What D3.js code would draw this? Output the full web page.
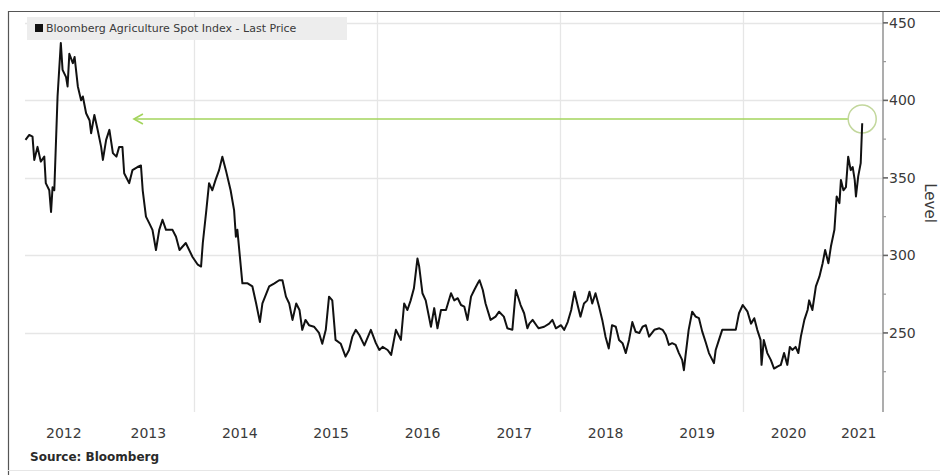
<!DOCTYPE html>
<html><head><meta charset="utf-8">
<script src="https://cdn.jsdelivr.net/npm/d3@7/dist/d3.min.js"></script>
<style>
html,body{margin:0;padding:0;background:#fff;}
svg{display:block;}
</style></head>
<body><svg id="chart" width="940" height="475"></svg>
<script>
const seriesName = "Bloomberg Agriculture Spot Index - Last Price";
const sourceText = "Source: Bloomberg";
const axisTitle = "Level";
const dates = [
"2012-02-28","2012-03-14","2012-03-27","2012-04-03","2012-04-16","2012-04-29","2012-05-13","2012-05-19","2012-06-02","2012-06-09","2012-06-15","2012-06-22","2012-07-05","2012-07-18","2012-07-25","2012-08-08","2012-08-14","2012-08-21","2012-09-04","2012-09-11","2012-09-24","2012-10-07","2012-10-14","2012-10-27","2012-11-10","2012-11-16","2012-11-29","2012-12-12","2012-12-26",
"2013-01-02","2013-01-15","2013-01-28","2013-02-11","2013-02-25","2013-03-08","2013-03-21","2013-03-28","2013-04-17","2013-04-30","2013-05-20","2013-06-03","2013-06-10","2013-06-23","2013-07-06","2013-07-19","2013-08-02","2013-08-15","2013-08-28","2013-09-11","2013-10-07","2013-10-21","2013-11-04","2013-11-29","2013-12-26",
"2014-01-16","2014-01-29","2014-02-05","2014-02-19","2014-03-02","2014-03-15","2014-03-28","2014-04-11","2014-04-24","2014-05-08","2014-05-27","2014-06-10","2014-06-17","2014-06-23","2014-07-13","2014-08-03","2014-08-22","2014-09-06","2014-09-21","2014-10-01","2014-10-28","2014-11-18","2014-12-07","2014-12-20",
"2015-01-03","2015-01-16","2015-01-29","2015-02-13","2015-02-26","2015-03-09","2015-03-22","2015-04-05","2015-04-25","2015-05-15","2015-05-28","2015-06-11","2015-06-24","2015-07-07","2015-07-20","2015-08-10","2015-08-29","2015-09-12","2015-09-25","2015-10-09","2015-10-23","2015-11-12","2015-12-08","2015-12-28",
"2016-01-11","2016-01-24","2016-02-13","2016-02-27","2016-03-17","2016-04-06","2016-04-19","2016-05-02","2016-05-15","2016-05-28","2016-06-11","2016-06-18","2016-07-01","2016-07-14","2016-08-04","2016-08-17","2016-08-30","2016-09-13","2016-10-03","2016-10-23","2016-11-05","2016-11-19","2016-12-02","2016-12-15","2016-12-28",
"2017-01-11","2017-01-24","2017-02-07","2017-02-14","2017-02-27","2017-03-10","2017-03-30","2017-04-19","2017-05-03","2017-05-22","2017-06-05","2017-06-25","2017-07-09","2017-07-28","2017-08-11","2017-08-24","2017-09-01","2017-09-14","2017-10-03","2017-10-08","2017-10-30","2017-11-19","2017-12-02","2017-12-16",
"2018-01-05","2018-01-18","2018-02-01","2018-02-15","2018-02-28","2018-03-11","2018-03-24","2018-04-07","2018-04-20","2018-04-29","2018-05-10","2018-05-23","2018-06-06","2018-06-19","2018-07-02","2018-07-15","2018-07-28","2018-08-12","2018-08-25","2018-09-08","2018-09-21","2018-10-04","2018-10-17","2018-10-30","2018-11-14","2018-11-27","2018-12-10","2018-12-23",
"2019-01-13","2019-02-02","2019-02-15","2019-02-28","2019-03-12","2019-03-25","2019-04-08","2019-04-21","2019-05-04","2019-05-11","2019-05-17","2019-05-30","2019-06-13","2019-06-27","2019-07-10","2019-07-23","2019-08-06","2019-08-19","2019-09-08","2019-09-15","2019-09-28","2019-10-11","2019-11-01","2019-11-20","2019-12-04","2019-12-17",
"2020-01-01","2020-01-20","2020-02-03","2020-02-16","2020-02-28","2020-03-12","2020-03-16","2020-03-25","2020-04-08","2020-04-22","2020-05-05","2020-05-18","2020-06-01","2020-06-14","2020-06-27","2020-07-07","2020-07-17","2020-07-30","2020-08-10","2020-08-20","2020-09-03","2020-09-16","2020-09-22","2020-10-05","2020-10-19","2020-11-02","2020-11-15","2020-11-25","2020-12-08","2020-12-18",
"2021-01-01","2021-01-10","2021-01-21","2021-01-27","2021-02-06","2021-02-16","2021-02-25","2021-03-07","2021-03-15","2021-03-23","2021-03-28","2021-04-06","2021-04-16","2021-04-22"
];
const values = [
374.5,377.7,376.6,361.6,370,360.5,363.7,346.6,342,328,344,342,402.5,437,419.7,415,409,430,424,428,409,400,402.5,391.7,387,378.8,390.6,381,370,
361.6,374.5,381,366,363.7,370,370,353,346.6,355,357,358,342,325,320.8,316.5,303.5,316.5,323,316.5,316.5,312,303.5,308,299,
294,292.8,308,329,346.6,342,348.7,355,363.7,355,342,329,312,316.5,282,282,280,269,257,269,280,282,284,284,
273.4,269,258.4,269,264.8,252,258.4,255,254,250,243,252,273.4,271,245.5,243,234.7,239,247.6,252,248.7,242,252,243.4,
239,241,239,235.8,252,245.5,269,264.8,271,278.8,298,292.8,275.6,271,254,266,253,264.8,264.8,275.6,271,272.4,268,267,258.4,
273.4,277.7,282,284,277.7,269,258.4,260.5,263.7,260.5,253,252,277.7,268,262.7,253,256,258.4,254,253,254,256,258.4,253,
255,252,257,264.8,276.6,269,260.5,269,271,276.6,269,275.6,267,258.4,247.6,240,255,254,245.5,243.4,237,245.5,257,250.8,250,254,255,247.6,
252,253,252,248.7,242.3,243.4,242.3,237,232.6,226,234.7,252,263.7,260.5,259.5,251,244,237,230.5,239,245.5,252,252,252,252,262.7,
268,263.7,256,259.5,252,245.5,229.4,245.5,237,232.6,227,228.3,229.4,237,229.4,241,239,241,237,247.6,258.4,264.8,271,264.8,280,286.3,295,303.5,295,305.7,
316.5,338,333.7,348.7,342,344,363.7,355,357,348.7,338,351,359.5,385.3
];
const yTicks = [250, 300, 350, 400, 450];
const yMinorTicks = [225, 275, 325, 375, 425];
const gridYears = [2014, 2016, 2018, 2020];
const yearLabels = ["2012","2013","2014","2015","2016","2017","2018","2019","2020","2021"];
const xDomain = ["2012-02-26", "2021-07-14"];
const yDomain = [199, 457];
const arrowLevel = 388;
const arrowFrom = "2021-04-22";
const arrowTo = "2013-05-06";

(function () {
const parse = d3.timeParse("%Y-%m-%d");
const data = dates.map((d, i) => ({date: parse(d), value: values[i]}));

const svg = d3.select("#chart");
const pL = 25, pR = 883, pT = 12, pB = 412;
const x = d3.scaleTime().domain(xDomain.map(parse)).range([pL, pR]);
const y = d3.scaleLinear().domain(yDomain).range([pB, pT]);
const font = "'DejaVu Sans', sans-serif";
const txt = "#3a3a3a";

// frame
svg.append("line").attr("x1", 8).attr("x2", 940).attr("y1", 11.5).attr("y2", 11.5).attr("stroke", "#555").attr("stroke-width", 1.2);
svg.append("line").attr("x1", 8.5).attr("x2", 8.5).attr("y1", 11).attr("y2", 475).attr("stroke", "#555").attr("stroke-width", 1.2);
svg.append("line").attr("x1", 8).attr("x2", 940).attr("y1", 470.5).attr("y2", 470.5).attr("stroke", "#e6e6e6").attr("stroke-width", 1);

// gridlines
const g = svg.append("g");
g.selectAll(".hg").data(yTicks).join("line")
  .attr("x1", pL).attr("x2", pR)
  .attr("y1", d => Math.round(y(d)) + 0.5).attr("y2", d => Math.round(y(d)) + 0.5)
  .attr("stroke", "#e6e6e6").attr("stroke-width", 1.3);
g.selectAll(".vg").data(gridYears).join("line")
  .attr("x1", d => Math.round(x(new Date(d, 0, 1))) + 0.5).attr("x2", d => Math.round(x(new Date(d, 0, 1))) + 0.5)
  .attr("y1", pT).attr("y2", pB)
  .attr("stroke", "#e6e6e6").attr("stroke-width", 1.3);

// legend
svg.append("rect").attr("x", 27).attr("y", 17).attr("width", 320).attr("height", 23).attr("fill", "#ededed");
svg.append("rect").attr("x", 35).attr("y", 24).attr("width", 8).attr("height", 8).attr("fill", "#111");
svg.append("text").attr("x", 46).attr("y", 32).attr("font-family", font).attr("font-size", 11)
  .attr("fill", txt).text(seriesName);

// annotation arrow
const green = "#a3d45c";
const ay = y(arrowLevel);
const cx = x(parse(arrowFrom)), cr = 14;
const tipX = x(parse(arrowTo));
svg.append("line").attr("x1", cx - cr).attr("x2", tipX).attr("y1", ay).attr("y2", ay)
  .attr("stroke", green).attr("stroke-width", 1.6);
svg.append("path")
  .attr("d", `M${tipX + 9},${ay - 5} L${tipX},${ay} L${tipX + 9},${ay + 5}`)
  .attr("fill", "none").attr("stroke", green).attr("stroke-width", 1.6);
svg.append("circle").attr("cx", cx).attr("cy", ay).attr("r", cr)
  .attr("fill", "none").attr("stroke", "#c2d79c").attr("stroke-width", 1.5);

// price line
svg.append("path").datum(data)
  .attr("d", d3.line().x(d => x(d.date)).y(d => y(d.value)))
  .attr("fill", "none").attr("stroke", "#111").attr("stroke-width", 2).attr("stroke-linejoin", "round");

// right axis
const ax = svg.append("g").attr("transform", `translate(${pR},0)`);
ax.append("line").attr("x1", 0).attr("x2", 0).attr("y1", pT).attr("y2", pB).attr("stroke", "#999").attr("stroke-width", 1.6);
ax.selectAll(".mt").data(yTicks).join("line")
  .attr("x1", 0).attr("x2", 5).attr("y1", d => y(d)).attr("y2", d => y(d))
  .attr("stroke", "#666").attr("stroke-width", 1.6);
ax.selectAll(".nt").data(yMinorTicks).join("line")
  .attr("x1", 0).attr("x2", 3).attr("y1", d => y(d)).attr("y2", d => y(d))
  .attr("stroke", "#999").attr("stroke-width", 1.2);
ax.selectAll(".tl").data(yTicks).join("text")
  .attr("x", 6).attr("y", d => y(d)).attr("dy", "0.36em")
  .attr("font-family", font).attr("font-size", 14).attr("fill", txt).text(d => d);
svg.append("text").attr("transform", `translate(925,203) rotate(90)`)
  .attr("text-anchor", "middle").attr("font-family", font).attr("font-size", 15).attr("fill", txt).text(axisTitle);

// year labels centered in visible year spans
const [d0, d1] = x.domain();
svg.selectAll(".yl").data(yearLabels).join("text")
  .attr("x", d => {
    const s = new Date(+d, 0, 1), e = new Date(+d + 1, 0, 1);
    const a = s < d0 ? d0 : s, b = e > d1 ? d1 : e;
    return (x(a) + x(b)) / 2;
  })
  .attr("y", 438).attr("text-anchor", "middle")
  .attr("font-family", font).attr("font-size", 14).attr("fill", txt).text(d => d);

svg.append("text").attr("x", 30).attr("y", 461).attr("font-family", font).attr("font-size", 12)
  .attr("font-weight", "bold").attr("fill", "#2a2a2a").text(sourceText);
})();
</script>
</body></html>
